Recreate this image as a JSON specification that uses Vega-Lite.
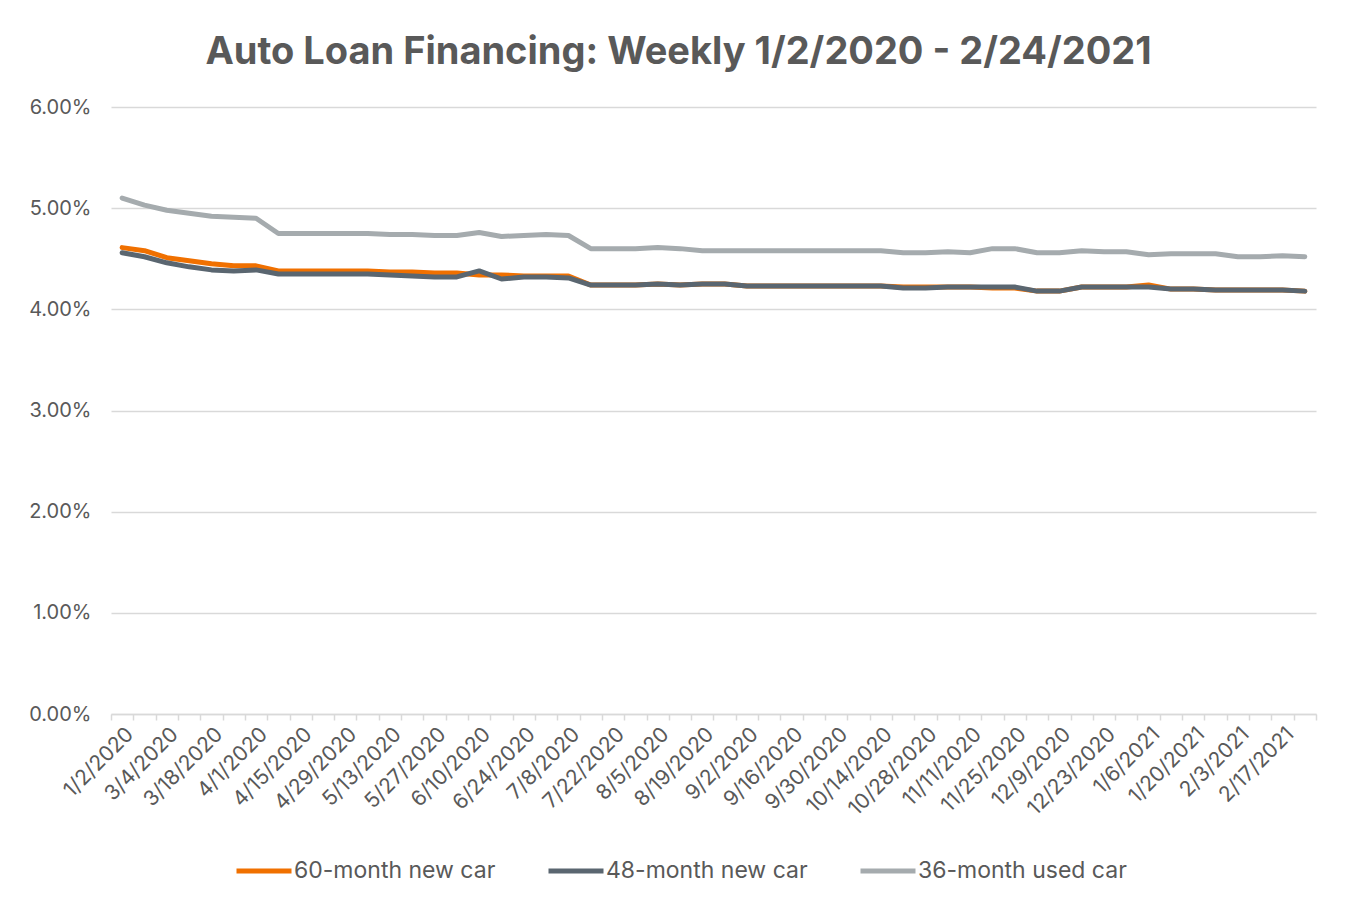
{
  "$schema": "https://vega.github.io/schema/vega-lite/v6.json",
  "width": 1205,
  "height": 607,
  "autosize": "none",
  "padding": {"left": 111, "top": 107, "right": 35, "bottom": 187},
  "background": "white",
  "config": {"view": {"stroke": null}, "font": "Inter"},
  "title": {"text": "Auto Loan Financing: Weekly 1/2/2020 - 2/24/2021", "fontSize": 38, "fontWeight": "bold", "color": "#595959", "anchor": "middle", "dx": -35, "offset": 25, "font": "Inter"},
  "data": {"values": [
    {"date": "1/2/2020", "60-month new car": 4.61, "48-month new car": 4.56, "36-month used car": 5.10},
    {"date": "2/26/2020", "60-month new car": 4.58, "48-month new car": 4.52, "36-month used car": 5.03},
    {"date": "3/4/2020", "60-month new car": 4.51, "48-month new car": 4.46, "36-month used car": 4.98},
    {"date": "3/11/2020", "60-month new car": 4.48, "48-month new car": 4.42, "36-month used car": 4.95},
    {"date": "3/18/2020", "60-month new car": 4.45, "48-month new car": 4.39, "36-month used car": 4.92},
    {"date": "3/25/2020", "60-month new car": 4.43, "48-month new car": 4.38, "36-month used car": 4.91},
    {"date": "4/1/2020", "60-month new car": 4.43, "48-month new car": 4.39, "36-month used car": 4.90},
    {"date": "4/8/2020", "60-month new car": 4.38, "48-month new car": 4.35, "36-month used car": 4.75},
    {"date": "4/15/2020", "60-month new car": 4.38, "48-month new car": 4.35, "36-month used car": 4.75},
    {"date": "4/22/2020", "60-month new car": 4.38, "48-month new car": 4.35, "36-month used car": 4.75},
    {"date": "4/29/2020", "60-month new car": 4.38, "48-month new car": 4.35, "36-month used car": 4.75},
    {"date": "5/6/2020", "60-month new car": 4.38, "48-month new car": 4.35, "36-month used car": 4.75},
    {"date": "5/13/2020", "60-month new car": 4.37, "48-month new car": 4.34, "36-month used car": 4.74},
    {"date": "5/20/2020", "60-month new car": 4.37, "48-month new car": 4.33, "36-month used car": 4.74},
    {"date": "5/27/2020", "60-month new car": 4.36, "48-month new car": 4.32, "36-month used car": 4.73},
    {"date": "6/3/2020", "60-month new car": 4.36, "48-month new car": 4.32, "36-month used car": 4.73},
    {"date": "6/10/2020", "60-month new car": 4.34, "48-month new car": 4.38, "36-month used car": 4.76},
    {"date": "6/17/2020", "60-month new car": 4.34, "48-month new car": 4.30, "36-month used car": 4.72},
    {"date": "6/24/2020", "60-month new car": 4.33, "48-month new car": 4.32, "36-month used car": 4.73},
    {"date": "7/1/2020", "60-month new car": 4.33, "48-month new car": 4.32, "36-month used car": 4.74},
    {"date": "7/8/2020", "60-month new car": 4.33, "48-month new car": 4.31, "36-month used car": 4.73},
    {"date": "7/15/2020", "60-month new car": 4.24, "48-month new car": 4.24, "36-month used car": 4.60},
    {"date": "7/22/2020", "60-month new car": 4.24, "48-month new car": 4.24, "36-month used car": 4.60},
    {"date": "7/29/2020", "60-month new car": 4.24, "48-month new car": 4.24, "36-month used car": 4.60},
    {"date": "8/5/2020", "60-month new car": 4.25, "48-month new car": 4.25, "36-month used car": 4.61},
    {"date": "8/12/2020", "60-month new car": 4.24, "48-month new car": 4.24, "36-month used car": 4.60},
    {"date": "8/19/2020", "60-month new car": 4.25, "48-month new car": 4.25, "36-month used car": 4.58},
    {"date": "8/26/2020", "60-month new car": 4.25, "48-month new car": 4.25, "36-month used car": 4.58},
    {"date": "9/2/2020", "60-month new car": 4.23, "48-month new car": 4.23, "36-month used car": 4.58},
    {"date": "9/9/2020", "60-month new car": 4.23, "48-month new car": 4.23, "36-month used car": 4.58},
    {"date": "9/16/2020", "60-month new car": 4.23, "48-month new car": 4.23, "36-month used car": 4.58},
    {"date": "9/23/2020", "60-month new car": 4.23, "48-month new car": 4.23, "36-month used car": 4.58},
    {"date": "9/30/2020", "60-month new car": 4.23, "48-month new car": 4.23, "36-month used car": 4.58},
    {"date": "10/7/2020", "60-month new car": 4.23, "48-month new car": 4.23, "36-month used car": 4.58},
    {"date": "10/14/2020", "60-month new car": 4.23, "48-month new car": 4.23, "36-month used car": 4.58},
    {"date": "10/21/2020", "60-month new car": 4.22, "48-month new car": 4.21, "36-month used car": 4.56},
    {"date": "10/28/2020", "60-month new car": 4.22, "48-month new car": 4.21, "36-month used car": 4.56},
    {"date": "11/4/2020", "60-month new car": 4.22, "48-month new car": 4.22, "36-month used car": 4.57},
    {"date": "11/11/2020", "60-month new car": 4.22, "48-month new car": 4.22, "36-month used car": 4.56},
    {"date": "11/18/2020", "60-month new car": 4.21, "48-month new car": 4.22, "36-month used car": 4.60},
    {"date": "11/25/2020", "60-month new car": 4.21, "48-month new car": 4.22, "36-month used car": 4.60},
    {"date": "12/2/2020", "60-month new car": 4.18, "48-month new car": 4.18, "36-month used car": 4.56},
    {"date": "12/9/2020", "60-month new car": 4.18, "48-month new car": 4.18, "36-month used car": 4.56},
    {"date": "12/16/2020", "60-month new car": 4.22, "48-month new car": 4.22, "36-month used car": 4.58},
    {"date": "12/23/2020", "60-month new car": 4.22, "48-month new car": 4.22, "36-month used car": 4.57},
    {"date": "12/30/2020", "60-month new car": 4.22, "48-month new car": 4.22, "36-month used car": 4.57},
    {"date": "1/6/2021", "60-month new car": 4.24, "48-month new car": 4.22, "36-month used car": 4.54},
    {"date": "1/13/2021", "60-month new car": 4.20, "48-month new car": 4.20, "36-month used car": 4.55},
    {"date": "1/20/2021", "60-month new car": 4.20, "48-month new car": 4.20, "36-month used car": 4.55},
    {"date": "1/27/2021", "60-month new car": 4.19, "48-month new car": 4.19, "36-month used car": 4.55},
    {"date": "2/3/2021", "60-month new car": 4.19, "48-month new car": 4.19, "36-month used car": 4.52},
    {"date": "2/10/2021", "60-month new car": 4.19, "48-month new car": 4.19, "36-month used car": 4.52},
    {"date": "2/17/2021", "60-month new car": 4.19, "48-month new car": 4.19, "36-month used car": 4.53},
    {"date": "2/24/2021", "60-month new car": 4.18, "48-month new car": 4.18, "36-month used car": 4.52}
  ]},
  "transform": [
    {"fold": ["60-month new car", "48-month new car", "36-month used car"], "as": ["series", "rate"]}
  ],
  "mark": {"type": "line", "strokeWidth": 5, "strokeCap": "round", "strokeJoin": "round"},
  "encoding": {
    "x": {
      "field": "date",
      "type": "ordinal",
      "sort": null,
      "bandPosition": 0.5,
      "scale": {"type": "band", "paddingInner": 0, "paddingOuter": 0},
      "axis": {
        "title": null,
        "labelAngle": -45,
        "labelFontSize": 21,
        "labelColor": "#595959",
        "labelOverlap": false,
        "labelPadding": 3,
        "domainColor": "#d9d9d9",
        "domainWidth": 1.5,
        "tickColor": "#d9d9d9",
        "tickWidth": 1.5,
        "tickSize": 6,
        "tickBand": "extent",
        "grid": false,
        "labelExpr": "indexof(['1/2/2020','3/4/2020','3/18/2020','4/1/2020','4/15/2020','4/29/2020','5/13/2020','5/27/2020','6/10/2020','6/24/2020','7/8/2020','7/22/2020','8/5/2020','8/19/2020','9/2/2020','9/16/2020','9/30/2020','10/14/2020','10/28/2020','11/11/2020','11/25/2020','12/9/2020','12/23/2020','1/6/2021','1/20/2021','2/3/2021','2/17/2021'], datum.value) >= 0 ? datum.value : ''"
      }
    },
    "y": {
      "field": "rate",
      "type": "quantitative",
      "scale": {"domain": [0, 6], "nice": false, "zero": true},
      "axis": {
        "title": null,
        "values": [0, 1, 2, 3, 4, 5, 6],
        "labelExpr": "format(datum.value, '.2f') + '%'",
        "labelFontSize": 20,
        "labelColor": "#595959",
        "labelPadding": 20,
        "domain": false,
        "ticks": false,
        "gridColor": "#d9d9d9",
        "gridWidth": 1.5
      }
    },
    "color": {
      "field": "series",
      "type": "nominal",
      "scale": {
        "domain": ["60-month new car", "48-month new car", "36-month used car"],
        "range": ["#F07000", "#5A6670", "#A5ABAE"]
      },
      "legend": {
        "orient": "none",
        "legendX": 123,
        "legendY": 734,
        "direction": "horizontal",
        "title": null,
        "symbolType": "stroke",
        "symbolSize": 3025,
        "symbolStrokeWidth": 5,
        "labelFontSize": 23,
        "labelLimit": 400,
        "labelColor": "#595959",
        "columnPadding": 42,
        "labelOffset": 0
      }
    }
  }
}
